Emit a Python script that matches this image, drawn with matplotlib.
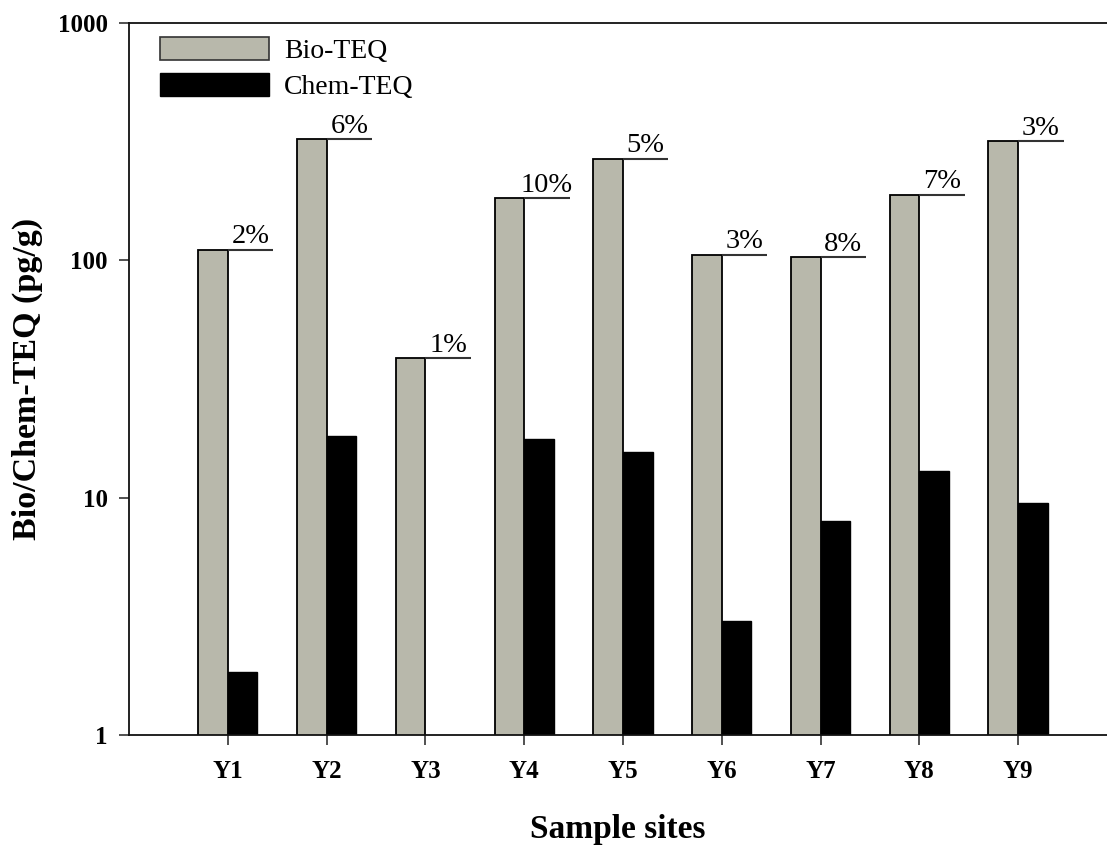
import numpy as np
import matplotlib
matplotlib.use("Agg")
import matplotlib.pyplot as plt
from matplotlib.patches import Patch

sites = ["Y1", "Y2", "Y3", "Y4", "Y5", "Y6", "Y7", "Y8", "Y9"]
bio_teq = [110.9, 324, 38.7, 182.4, 268, 105.6, 103.5, 189, 317]
chem_teq = [1.85, 18.2, np.nan, 17.6, 15.6, 3.03, 8.01, 13.0, 9.54]
ratio_labels = ["2%", "6%", "1%", "10%", "5%", "3%", "8%", "7%", "3%"]

plt.rcParams['font.family'] = ['Liberation Serif', 'DejaVu Serif']

W, H = 1107, 847
fig = plt.figure(figsize=(W / 100, H / 100), dpi=100)
ax = fig.add_axes([129 / W, (H - 735) / H, (W - 129) / W, (735 - 23) / H])

x = np.arange(len(sites))
bw = 0.3
bio_color = "#B8B8AB"
ax.bar(x - bw / 2, bio_teq, width=bw, color=bio_color, edgecolor="black", linewidth=1.3)
ax.bar(x + bw / 2, chem_teq, width=bw, color="black", edgecolor="black", linewidth=1.0)

ax.set_yscale("log")
ax.set_ylim(1, 1000)
ax.set_xlim(-1.0, 8.9)

# ratio annotations
seg = 0.46
for xi, b, lab in zip(x, bio_teq, ratio_labels):
    ax.plot([xi, xi + seg], [b, b], color="#333333", lw=1.5, solid_capstyle="butt")
    ax.annotate(lab, xy=(xi + seg / 2, b), xytext=(0, 4.5), textcoords="offset points",
                ha="center", va="baseline", fontsize=20.5)

ax.set_yticks([1, 10, 100, 1000])
ax.set_yticklabels(["1", "10", "100", "1000"])
ax.yaxis.set_minor_locator(matplotlib.ticker.NullLocator())
ax.set_xticks(x)
ax.set_xticklabels(sites)
for lbl in ax.get_xticklabels() + ax.get_yticklabels():
    lbl.set_fontweight("bold")
    lbl.set_fontsize(18)
ax.tick_params(axis="both", direction="out", length=7.2, width=1.1, color="#222222")
ax.tick_params(axis="y", pad=8)
ax.tick_params(axis="x", pad=11)

for s in ["left", "bottom", "top"]:
    ax.spines[s].set_linewidth(1.3)
    ax.spines[s].set_color("#111111")
ax.spines["right"].set_visible(False)

ax.set_xlabel("Sample sites", fontsize=24, fontweight="bold", labelpad=22)
ax.set_ylabel("Bio/Chem-TEQ (pg/g)", fontsize=24.5, fontweight="bold", labelpad=11)

handles = [Patch(facecolor=bio_color, edgecolor="#333333", linewidth=1.2, label="Bio-TEQ"),
           Patch(facecolor="black", edgecolor="black", label="Chem-TEQ")]
ax.legend(handles=handles, loc="upper left", bbox_to_anchor=(31 / 978, 0.98),
          frameon=False, fontsize=20, handlelength=3.92, handleheight=0.9,
          handletextpad=0.54, labelspacing=0.32, borderpad=0, borderaxespad=0)

fig.savefig("out.png", dpi=100)
